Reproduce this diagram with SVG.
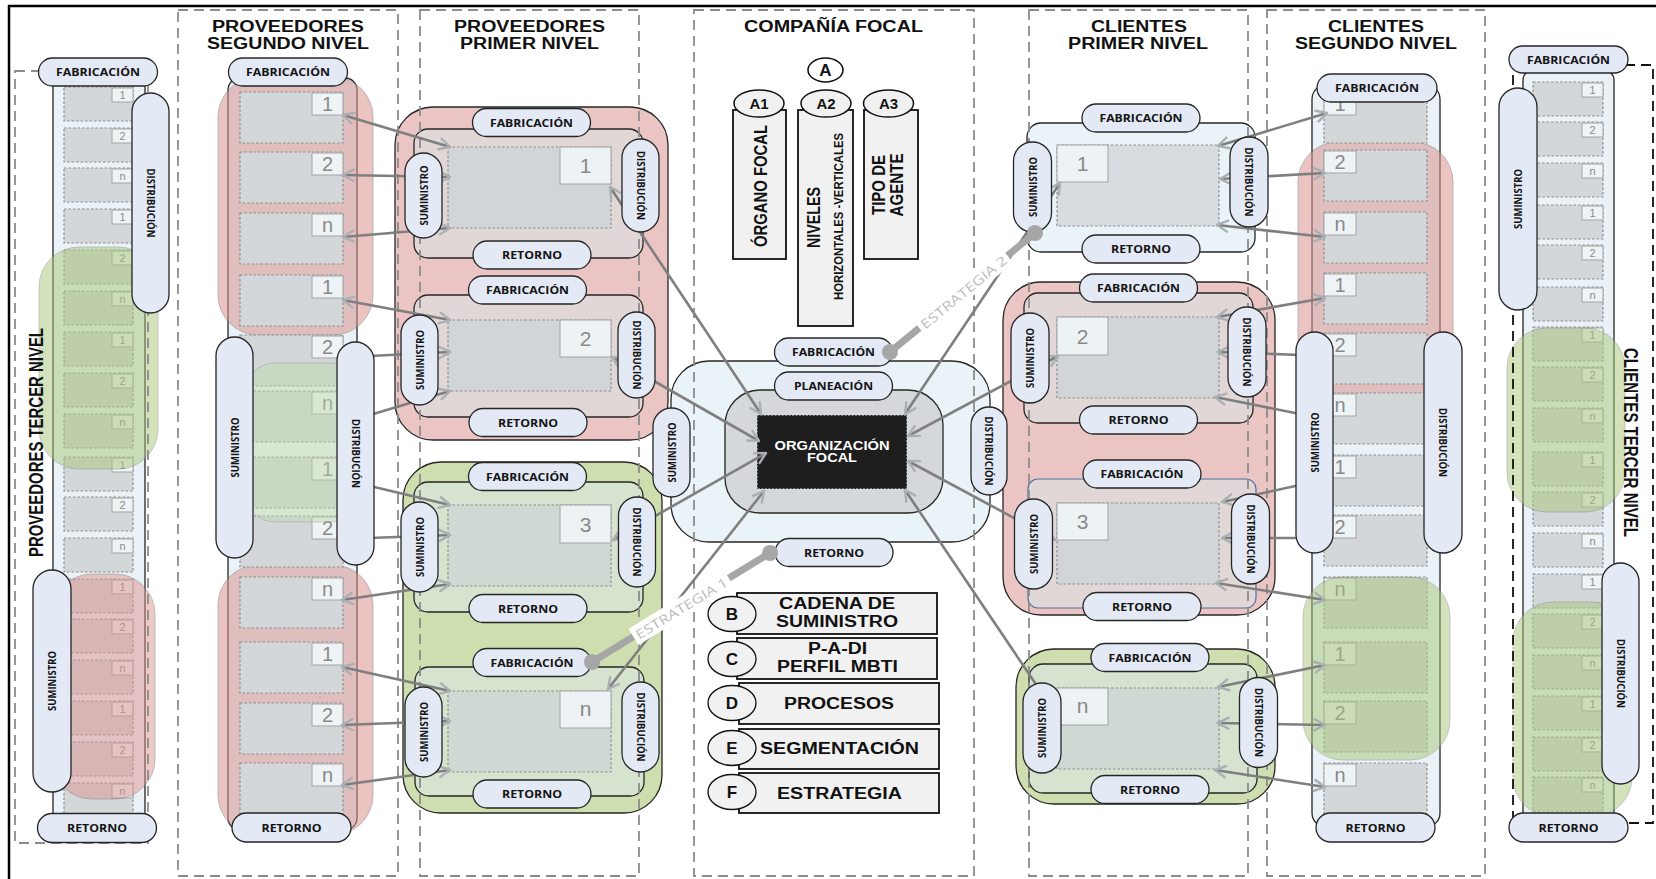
<svg xmlns="http://www.w3.org/2000/svg" width="1656" height="879" viewBox="0 0 1656 879">
<defs>
<style>
.dash{fill:none;stroke:#8C8C8C;stroke-width:1.8;stroke-dasharray:10 6}
.dashk{fill:none;stroke:#111;stroke-width:1.8;stroke-dasharray:10 6}
.ttl{font-family:"Liberation Sans",Arial,sans-serif;font-weight:bold;font-size:16px;fill:#111;text-anchor:middle}
.vt{font-family:"Liberation Sans",Arial,sans-serif;font-weight:bold;font-size:21px;fill:#111;text-anchor:middle}
.col{fill:#EAF2F7;stroke:#262626;stroke-width:1.3}
.pill{fill:#E3E9F5;stroke:#262626;stroke-width:1.3}
.pt{font-family:"Open Sans","Liberation Sans",sans-serif;font-weight:bold;font-size:10.5px;fill:#141414;text-anchor:middle}
.it{fill:#D3D7DA;stroke:#8E8E8E;stroke-width:1.2;stroke-dasharray:2.5 2}
.lb{fill:#EEF3F6;stroke:#A3A3A3;stroke-width:1}
.n{font-family:"Liberation Sans",Arial,sans-serif;fill:#8A8A8A;text-anchor:middle}
.n3{font-size:11px}.n2{font-size:20px}.n1{font-size:21px}
.red{fill:#DB9491;opacity:.5;stroke:#666;stroke-width:.8}
.redu{fill:#DB9491;opacity:.55;stroke:#666;stroke-width:.8}
.grn{fill:#A9C77A;opacity:.5;stroke:#777;stroke-width:.8}
.grnl{fill:#BFDAA6;opacity:.45;stroke:#888;stroke-width:.8}
.bigR{fill:#EBC5C3;stroke:#262626;stroke-width:1.3}
.bigG{fill:#CFDEAE;stroke:#262626;stroke-width:1.3}
.blkR{fill:#E2D7D7;stroke:#262626;stroke-width:1.3}
.blkG{fill:#D5E3CF;stroke:#262626;stroke-width:1.3}
.blkB{fill:#EAF3F7;stroke:#262626;stroke-width:1.3}
.ib{fill:#D2D5D8;stroke:#8E8E8E;stroke-width:1.2;stroke-dasharray:2.5 2}
.ibg{fill:#CDD9D2;stroke:#8E8E8E;stroke-width:1.2;stroke-dasharray:2.5 2}
.ibb{fill:#D6DCDF;stroke:#8E8E8E;stroke-width:1.2;stroke-dasharray:2.5 2}
.lbb{fill:#EDF2F5;stroke:#A3A3A3;stroke-width:1}
.ln{fill:none;stroke:#7F7F7F;stroke-width:2.6}
.box{fill:#F1F1F1;stroke:#111;stroke-width:1.8}
.at{font-family:"Liberation Sans",Arial,sans-serif;font-weight:bold;fill:#111;text-anchor:middle}
.lg{font-family:"Liberation Sans",Arial,sans-serif;font-weight:bold;font-size:16px;fill:#111;text-anchor:middle}
.est{font-family:"Open Sans","Liberation Sans",sans-serif;font-size:13px;fill:#BDBDBD;text-anchor:middle}
</style>
<marker id="ah" viewBox="0 0 14 14" refX="12.5" refY="7" markerWidth="14" markerHeight="14" markerUnits="userSpaceOnUse" orient="auto-start-reverse">
<path d="M2,1.5 L12.5,7 L2,12.5" fill="none" stroke="#A9B0B4" stroke-width="2.4" stroke-linecap="round"/>
</marker>
</defs>
<rect width="1656" height="879" fill="#fff"/>

<!-- ============ BODIES ============ -->
<g id="prov-tercer">
<rect class="col" x="53" y="76" width="92" height="750" rx="10"/>
<rect class="it" x="64" y="87" width="69" height="34"/><rect class="lb" x="112" y="88" width="21" height="14"/><text class="n n3" x="122.5" y="99">1</text>
<rect class="it" x="64" y="128" width="69" height="34"/><rect class="lb" x="112" y="129" width="21" height="14"/><text class="n n3" x="122.5" y="140">2</text>
<rect class="it" x="64" y="168" width="69" height="34"/><rect class="lb" x="112" y="169" width="21" height="14"/><text class="n n3" x="122.5" y="180">n</text>
<rect class="it" x="64" y="209" width="69" height="34"/><rect class="lb" x="112" y="210" width="21" height="14"/><text class="n n3" x="122.5" y="221">1</text>
<rect class="it" x="64" y="250" width="69" height="34"/><rect class="lb" x="112" y="251" width="21" height="14"/><text class="n n3" x="122.5" y="262">2</text>
<rect class="it" x="64" y="291" width="69" height="34"/><rect class="lb" x="112" y="292" width="21" height="14"/><text class="n n3" x="122.5" y="303">n</text>
<rect class="it" x="64" y="332" width="69" height="34"/><rect class="lb" x="112" y="333" width="21" height="14"/><text class="n n3" x="122.5" y="344">1</text>
<rect class="it" x="64" y="373" width="69" height="34"/><rect class="lb" x="112" y="374" width="21" height="14"/><text class="n n3" x="122.5" y="385">2</text>
<rect class="it" x="64" y="414" width="69" height="34"/><rect class="lb" x="112" y="415" width="21" height="14"/><text class="n n3" x="122.5" y="426">n</text>
<rect class="it" x="64" y="457" width="69" height="34"/><rect class="lb" x="112" y="458" width="21" height="14"/><text class="n n3" x="122.5" y="469">1</text>
<rect class="it" x="64" y="497" width="69" height="34"/><rect class="lb" x="112" y="498" width="21" height="14"/><text class="n n3" x="122.5" y="509">2</text>
<rect class="it" x="64" y="538" width="69" height="34"/><rect class="lb" x="112" y="539" width="21" height="14"/><text class="n n3" x="122.5" y="550">n</text>
<rect class="it" x="64" y="579" width="69" height="34"/><rect class="lb" x="112" y="580" width="21" height="14"/><text class="n n3" x="122.5" y="591">1</text>
<rect class="it" x="64" y="619" width="69" height="34"/><rect class="lb" x="112" y="620" width="21" height="14"/><text class="n n3" x="122.5" y="631">2</text>
<rect class="it" x="64" y="660" width="69" height="34"/><rect class="lb" x="112" y="661" width="21" height="14"/><text class="n n3" x="122.5" y="672">n</text>
<rect class="it" x="64" y="701" width="69" height="34"/><rect class="lb" x="112" y="702" width="21" height="14"/><text class="n n3" x="122.5" y="713">1</text>
<rect class="it" x="64" y="742" width="69" height="34"/><rect class="lb" x="112" y="743" width="21" height="14"/><text class="n n3" x="122.5" y="754">2</text>
<rect class="it" x="64" y="783" width="69" height="34"/><rect class="lb" x="112" y="784" width="21" height="14"/><text class="n n3" x="122.5" y="795">n</text>
<rect class="grn" x="39" y="247" width="119" height="222" rx="40"/>
<rect class="red" x="52" y="574" width="103" height="225" rx="40"/>
</g>

<g id="prov-segundo">
<rect class="col" x="228" y="78" width="129" height="752" rx="12"/>
<rect class="redu" x="218" y="77" width="155" height="258" rx="40"/>
<rect class="redu" x="218" y="565" width="155" height="270" rx="40"/>
<rect class="it" x="240" y="92" width="103" height="51"/><rect class="lb" x="312" y="93" width="31" height="22"/><text class="n n2" x="327.5" y="111">1</text>
<rect class="it" x="240" y="152" width="103" height="51"/><rect class="lb" x="312" y="153" width="31" height="22"/><text class="n n2" x="327.5" y="171">2</text>
<rect class="it" x="240" y="213" width="103" height="51"/><rect class="lb" x="312" y="214" width="31" height="22"/><text class="n n2" x="327.5" y="232">n</text>
<rect class="it" x="240" y="275" width="103" height="51"/><rect class="lb" x="312" y="276" width="31" height="22"/><text class="n n2" x="327.5" y="294">1</text>
<rect class="it" x="240" y="335" width="103" height="51"/><rect class="lb" x="312" y="336" width="31" height="22"/><text class="n n2" x="327.5" y="354">2</text>
<rect class="it" x="240" y="391" width="103" height="51"/><rect class="lb" x="312" y="392" width="31" height="22"/><text class="n n2" x="327.5" y="410">n</text>
<rect class="it" x="240" y="457" width="103" height="51"/><rect class="lb" x="312" y="458" width="31" height="22"/><text class="n n2" x="327.5" y="476">1</text>
<rect class="it" x="240" y="516" width="103" height="51"/><rect class="lb" x="312" y="517" width="31" height="22"/><text class="n n2" x="327.5" y="535">2</text>
<rect class="it" x="240" y="577" width="103" height="51"/><rect class="lb" x="312" y="578" width="31" height="22"/><text class="n n2" x="327.5" y="596">n</text>
<rect class="it" x="240" y="642" width="103" height="51"/><rect class="lb" x="312" y="643" width="31" height="22"/><text class="n n2" x="327.5" y="661">1</text>
<rect class="it" x="240" y="703" width="103" height="51"/><rect class="lb" x="312" y="704" width="31" height="22"/><text class="n n2" x="327.5" y="722">2</text>
<rect class="it" x="240" y="763" width="103" height="51"/><rect class="lb" x="312" y="764" width="31" height="22"/><text class="n n2" x="327.5" y="782">n</text>
<rect class="grnl" x="245" y="363" width="115" height="159" rx="30"/>
</g>

<g id="prov-primer">
<rect class="bigR" x="395" y="107" width="273" height="333" rx="38"/>
<rect class="bigG" x="403" y="462" width="259" height="351" rx="38"/>
<rect class="blkR" x="414" y="129" width="229" height="129" rx="14"/>
<rect class="ib" x="448" y="147" width="163" height="81"/><rect class="lbb" x="560" y="147" width="51" height="37"/><text class="n n1" x="585.5" y="173">1</text>
<rect class="blkR" x="414" y="295" width="229" height="122" rx="14"/>
<rect class="ib" x="448" y="320" width="163" height="71"/><rect class="lbb" x="560" y="320" width="51" height="37"/><text class="n n1" x="585.5" y="346">2</text>
<rect class="blkG" x="414" y="482" width="229" height="130" rx="14"/>
<rect class="ibg" x="448" y="505" width="163" height="81"/><rect class="lbb" x="560" y="505" width="51" height="38"/><text class="n n1" x="585.5" y="532">3</text>
<rect class="blkG" x="415" y="667" width="229" height="129" rx="14"/>
<rect class="ibg" x="448" y="691" width="163" height="81"/><rect class="lbb" x="560" y="691" width="51" height="37"/><text class="n n1" x="585.5" y="716">n</text>
</g>

<g id="compania-focal">
<rect x="671" y="361" width="319" height="181" rx="38" fill="#EAF3F7" stroke="#262626" stroke-width="1.3"/>
<rect x="725" y="390" width="218" height="123" rx="35" fill="#D4D8DB" stroke="#262626" stroke-width="1.3"/>
<rect x="757" y="415" width="150" height="74" fill="#1E1E1E" stroke="#DDDDDD" stroke-width="1" stroke-dasharray="2 1.5"/>
<text x="832" y="450" font-family="Liberation Sans, Arial, sans-serif" font-weight="bold" font-size="12.5" fill="#fff" text-anchor="middle" textLength="115" lengthAdjust="spacingAndGlyphs">ORGANIZACIÓN</text>
<text x="832" y="462" font-family="Liberation Sans, Arial, sans-serif" font-weight="bold" font-size="12.5" fill="#fff" text-anchor="middle" textLength="50" lengthAdjust="spacingAndGlyphs">FOCAL</text>
</g>

<g id="A">
<ellipse cx="825.5" cy="70" rx="17.5" ry="12" fill="#fff" stroke="#111" stroke-width="1.5"/>
<text class="at" x="825.5" y="76" font-size="17">A</text>
</g>
<g id="A1">
<rect class="box" x="733" y="110" width="53" height="149"/>
<ellipse cx="759" cy="103.5" rx="25" ry="13.5" fill="#F1F1F1" stroke="#111" stroke-width="1.5"/>
<text class="at" x="759" y="109" font-size="15">A1</text>
<text class="at" transform="translate(767,186) rotate(-90)" font-size="18" textLength="122" lengthAdjust="spacingAndGlyphs">ÓRGANO FOCAL</text>
</g>
<g id="A2">
<rect class="box" x="798" y="110" width="55" height="216"/>
<ellipse cx="826" cy="103.5" rx="25" ry="13.5" fill="#F1F1F1" stroke="#111" stroke-width="1.5"/>
<text class="at" x="826" y="109" font-size="15">A2</text>
<text class="at" transform="translate(820,217.5) rotate(-90)" font-size="19" textLength="61" lengthAdjust="spacingAndGlyphs">NIVELES</text>
<text class="at" transform="translate(843,216.5) rotate(-90)" font-size="13.5" textLength="167" lengthAdjust="spacingAndGlyphs">HORIZONTALES -VERTICALES</text>
</g>
<g id="A3">
<rect class="box" x="864" y="110" width="54" height="149"/>
<ellipse cx="888.5" cy="103.5" rx="25" ry="13.5" fill="#F1F1F1" stroke="#111" stroke-width="1.5"/>
<text class="at" x="888.5" y="109" font-size="15">A3</text>
<text class="at" transform="translate(885,185) rotate(-90)" font-size="19" textLength="60" lengthAdjust="spacingAndGlyphs">TIPO DE</text>
<text class="at" transform="translate(903,185) rotate(-90)" font-size="19" textLength="63" lengthAdjust="spacingAndGlyphs">AGENTE</text>
</g>

<g id="legend-B">
<rect class="box" x="737" y="593" width="200" height="41"/>
<ellipse cx="732" cy="614" rx="24" ry="17.5" fill="#F1F1F1" stroke="#111" stroke-width="1.3"/>
<text class="at" x="732" y="620" font-size="17">B</text>
<text class="lg" x="837" y="609" textLength="116" lengthAdjust="spacingAndGlyphs">CADENA DE</text>
<text class="lg" x="837" y="627" textLength="122" lengthAdjust="spacingAndGlyphs">SUMINISTRO</text>
</g>
<g id="legend-C">
<rect class="box" x="737" y="638" width="200" height="41"/>
<ellipse cx="732" cy="659" rx="24" ry="17.5" fill="#F1F1F1" stroke="#111" stroke-width="1.3"/>
<text class="at" x="732" y="665" font-size="17">C</text>
<text class="lg" x="837.5" y="654" textLength="59" lengthAdjust="spacingAndGlyphs">P-A-DI</text>
<text class="lg" x="837.5" y="672" textLength="121" lengthAdjust="spacingAndGlyphs">PERFIL MBTI</text>
</g>
<g id="legend-D">
<rect class="box" x="739" y="683" width="200" height="41"/>
<ellipse cx="732" cy="703" rx="24" ry="17.5" fill="#F1F1F1" stroke="#111" stroke-width="1.3"/>
<text class="at" x="732" y="709" font-size="17">D</text>
<text class="lg" x="839" y="709" textLength="110" lengthAdjust="spacingAndGlyphs">PROCESOS</text>
</g>
<g id="legend-E">
<rect class="box" x="739" y="729" width="200" height="40"/>
<ellipse cx="732" cy="748" rx="24" ry="17.5" fill="#F1F1F1" stroke="#111" stroke-width="1.3"/>
<text class="at" x="732" y="754" font-size="17">E</text>
<text class="lg" x="839.5" y="754" textLength="159" lengthAdjust="spacingAndGlyphs">SEGMENTACIÓN</text>
</g>
<g id="legend-F">
<rect class="box" x="739" y="773" width="200" height="40"/>
<ellipse cx="732" cy="792" rx="24" ry="17.5" fill="#F1F1F1" stroke="#111" stroke-width="1.3"/>
<text class="at" x="732" y="798" font-size="17">F</text>
<text class="lg" x="839.5" y="799" textLength="125" lengthAdjust="spacingAndGlyphs">ESTRATEGIA</text>
</g>

<g id="cli-primer">
<rect class="bigR" x="1003" y="282" width="272" height="333" rx="38"/>
<rect class="bigG" x="1016" y="649" width="259" height="155" rx="38"/>
<rect class="blkB" x="1027" y="123" width="228" height="129" rx="14"/>
<rect class="ibb" x="1057" y="145" width="162" height="81"/><rect class="lbb" x="1057" y="145" width="51" height="37"/><text class="n n1" x="1082.5" y="171">1</text>
<rect class="blkR" x="1024" y="293" width="229" height="130" rx="14"/>
<rect class="ib" x="1057" y="317" width="162" height="81"/><rect class="lbb" x="1057" y="317" width="51" height="38"/><text class="n n1" x="1082.5" y="344">2</text>
<rect x="1028" y="479" width="228" height="129" rx="10" fill="#E2D7D7" stroke="#4F6F9F" stroke-width="1.2"/>
<rect class="ib" x="1057" y="503" width="162" height="81"/><rect class="lbb" x="1057" y="503" width="51" height="37"/><text class="n n1" x="1082.5" y="529">3</text>
<rect class="blkG" x="1029" y="664" width="228" height="129" rx="14"/>
<rect class="ibg" x="1057" y="688" width="162" height="81"/><rect class="lbb" x="1057" y="688" width="51" height="37"/><text class="n n1" x="1082.5" y="713">n</text>
</g>

<g id="cli-segundo">
<rect class="col" x="1312" y="85" width="128" height="742" rx="14"/>
<rect class="redu" x="1298" y="142" width="155" height="265" rx="40"/>
<rect class="it" x="1324" y="92" width="103" height="51"/><rect class="lb" x="1324" y="93" width="32" height="22"/><text class="n n2" x="1340" y="111">1</text>
<rect class="it" x="1324" y="150" width="103" height="51"/><rect class="lb" x="1324" y="151" width="32" height="22"/><text class="n n2" x="1340" y="169">2</text>
<rect class="it" x="1324" y="212" width="103" height="51"/><rect class="lb" x="1324" y="213" width="32" height="22"/><text class="n n2" x="1340" y="231">n</text>
<rect class="it" x="1324" y="273" width="103" height="51"/><rect class="lb" x="1324" y="274" width="32" height="22"/><text class="n n2" x="1340" y="292">1</text>
<rect class="it" x="1324" y="333" width="103" height="51"/><rect class="lb" x="1324" y="334" width="32" height="22"/><text class="n n2" x="1340" y="352">2</text>
<rect class="it" x="1324" y="393" width="103" height="51"/><rect class="lb" x="1324" y="394" width="32" height="22"/><text class="n n2" x="1340" y="412">n</text>
<rect class="it" x="1324" y="455" width="103" height="51"/><rect class="lb" x="1324" y="456" width="32" height="22"/><text class="n n2" x="1340" y="474">1</text>
<rect class="it" x="1324" y="515" width="103" height="51"/><rect class="lb" x="1324" y="516" width="32" height="22"/><text class="n n2" x="1340" y="534">2</text>
<rect class="it" x="1324" y="577" width="103" height="51"/><rect class="lb" x="1324" y="578" width="32" height="22"/><text class="n n2" x="1340" y="596">n</text>
<rect class="it" x="1324" y="642" width="103" height="51"/><rect class="lb" x="1324" y="643" width="32" height="22"/><text class="n n2" x="1340" y="661">1</text>
<rect class="it" x="1324" y="701" width="103" height="51"/><rect class="lb" x="1324" y="702" width="32" height="22"/><text class="n n2" x="1340" y="720">2</text>
<rect class="it" x="1324" y="763" width="103" height="51"/><rect class="lb" x="1324" y="764" width="32" height="22"/><text class="n n2" x="1340" y="782">n</text>
<rect class="grn" x="1303" y="577" width="147" height="183" rx="40"/>
</g>

<g id="cli-tercer">
<rect class="col" x="1523" y="70" width="91" height="755" rx="10"/>
<rect class="it" x="1533" y="82" width="70" height="34"/><rect class="lb" x="1582" y="83" width="21" height="14"/><text class="n n3" x="1592.5" y="94">1</text>
<rect class="it" x="1533" y="122" width="70" height="34"/><rect class="lb" x="1582" y="123" width="21" height="14"/><text class="n n3" x="1592.5" y="134">2</text>
<rect class="it" x="1533" y="163" width="70" height="34"/><rect class="lb" x="1582" y="164" width="21" height="14"/><text class="n n3" x="1592.5" y="175">n</text>
<rect class="it" x="1533" y="205" width="70" height="34"/><rect class="lb" x="1582" y="206" width="21" height="14"/><text class="n n3" x="1592.5" y="217">1</text>
<rect class="it" x="1533" y="245" width="70" height="34"/><rect class="lb" x="1582" y="246" width="21" height="14"/><text class="n n3" x="1592.5" y="257">2</text>
<rect class="it" x="1533" y="287" width="70" height="34"/><rect class="lb" x="1582" y="288" width="21" height="14"/><text class="n n3" x="1592.5" y="299">n</text>
<rect class="it" x="1533" y="327" width="70" height="34"/><rect class="lb" x="1582" y="328" width="21" height="14"/><text class="n n3" x="1592.5" y="339">1</text>
<rect class="it" x="1533" y="367" width="70" height="34"/><rect class="lb" x="1582" y="368" width="21" height="14"/><text class="n n3" x="1592.5" y="379">2</text>
<rect class="it" x="1533" y="408" width="70" height="34"/><rect class="lb" x="1582" y="409" width="21" height="14"/><text class="n n3" x="1592.5" y="420">n</text>
<rect class="it" x="1533" y="452" width="70" height="34"/><rect class="lb" x="1582" y="453" width="21" height="14"/><text class="n n3" x="1592.5" y="464">1</text>
<rect class="it" x="1533" y="492" width="70" height="34"/><rect class="lb" x="1582" y="493" width="21" height="14"/><text class="n n3" x="1592.5" y="504">2</text>
<rect class="it" x="1533" y="533" width="70" height="34"/><rect class="lb" x="1582" y="534" width="21" height="14"/><text class="n n3" x="1592.5" y="545">n</text>
<rect class="it" x="1533" y="574" width="70" height="34"/><rect class="lb" x="1582" y="575" width="21" height="14"/><text class="n n3" x="1592.5" y="586">1</text>
<rect class="it" x="1533" y="614" width="70" height="34"/><rect class="lb" x="1582" y="615" width="21" height="14"/><text class="n n3" x="1592.5" y="626">2</text>
<rect class="it" x="1533" y="655" width="70" height="34"/><rect class="lb" x="1582" y="656" width="21" height="14"/><text class="n n3" x="1592.5" y="667">n</text>
<rect class="it" x="1533" y="696" width="70" height="34"/><rect class="lb" x="1582" y="697" width="21" height="14"/><text class="n n3" x="1592.5" y="708">1</text>
<rect class="it" x="1533" y="737" width="70" height="34"/><rect class="lb" x="1582" y="738" width="21" height="14"/><text class="n n3" x="1592.5" y="749">2</text>
<rect class="it" x="1533" y="777" width="70" height="34"/><rect class="lb" x="1582" y="778" width="21" height="14"/><text class="n n3" x="1592.5" y="789">n</text>
<rect class="grn" x="1507" y="328" width="118" height="184" rx="40"/>
<rect class="grn" x="1513" y="602" width="119" height="215" rx="40"/>
</g>

<!-- ============ COLUMNS / FRAME ============ -->
<g id="columns">
<path d="M9,879 V6 H1656" fill="none" stroke="#000" stroke-width="2.5"/>
<rect class="dash" x="15" y="71" width="133" height="772"/>
<rect class="dash" x="178" y="10" width="220" height="866"/>
<rect class="dash" x="420" y="10" width="219" height="866"/>
<rect class="dash" x="694" y="10" width="280" height="866"/>
<rect class="dash" x="1029" y="10" width="219" height="866"/>
<rect class="dash" x="1267" y="10" width="218" height="866"/>
<rect class="dashk" x="1513" y="65" width="140" height="758"/>
<text class="ttl" x="288" y="32" textLength="152" lengthAdjust="spacingAndGlyphs">PROVEEDORES</text>
<text class="ttl" x="288" y="49" textLength="162" lengthAdjust="spacingAndGlyphs">SEGUNDO NIVEL</text>
<text class="ttl" x="529.5" y="32" textLength="151" lengthAdjust="spacingAndGlyphs">PROVEEDORES</text>
<text class="ttl" x="529.5" y="49" textLength="139" lengthAdjust="spacingAndGlyphs">PRIMER NIVEL</text>
<text class="ttl" x="833.5" y="32" textLength="179" lengthAdjust="spacingAndGlyphs">COMPAÑÍA FOCAL</text>
<text class="ttl" x="1139" y="32" textLength="96" lengthAdjust="spacingAndGlyphs">CLIENTES</text>
<text class="ttl" x="1138" y="49" textLength="140" lengthAdjust="spacingAndGlyphs">PRIMER NIVEL</text>
<text class="ttl" x="1376" y="32" textLength="96" lengthAdjust="spacingAndGlyphs">CLIENTES</text>
<text class="ttl" x="1376" y="49" textLength="162" lengthAdjust="spacingAndGlyphs">SEGUNDO NIVEL</text>
<text class="vt" transform="translate(43,442.5) rotate(-90)" textLength="229" lengthAdjust="spacingAndGlyphs">PROVEEDORES TERCER NIVEL</text>
<text class="vt" transform="translate(1624,442.5) rotate(90)" textLength="189" lengthAdjust="spacingAndGlyphs">CLIENTES TERCER NIVEL</text>
</g>

<!-- ============ CONNECTORS ============ -->
<g id="connectors">
<line class="ln" x1="343" y1="115" x2="450" y2="147" marker-start="url(#ah)" marker-end="url(#ah)"/>
<line class="ln" x1="343" y1="175" x2="450" y2="177" marker-start="url(#ah)" marker-end="url(#ah)"/>
<line class="ln" x1="343" y1="237" x2="450" y2="228" marker-start="url(#ah)" marker-end="url(#ah)"/>
<line class="ln" x1="343" y1="300" x2="450" y2="320" marker-start="url(#ah)" marker-end="url(#ah)"/>
<line class="ln" x1="370" y1="356" x2="450" y2="352" marker-end="url(#ah)"/>
<line class="ln" x1="370" y1="415" x2="450" y2="391" marker-end="url(#ah)"/>
<line class="ln" x1="370" y1="486" x2="450" y2="505" marker-end="url(#ah)"/>
<line class="ln" x1="370" y1="538" x2="450" y2="535" marker-end="url(#ah)"/>
<line class="ln" x1="342" y1="600" x2="450" y2="584" marker-start="url(#ah)" marker-end="url(#ah)"/>
<line class="ln" x1="342" y1="667" x2="450" y2="691" marker-start="url(#ah)" marker-end="url(#ah)"/>
<line class="ln" x1="342" y1="725" x2="450" y2="721" marker-start="url(#ah)" marker-end="url(#ah)"/>
<line class="ln" x1="342" y1="785" x2="450" y2="770" marker-start="url(#ah)" marker-end="url(#ah)"/>
<line class="ln" x1="610" y1="187" x2="761" y2="414" marker-start="url(#ah)" marker-end="url(#ah)"/>
<line class="ln" x1="612" y1="357" x2="759" y2="441" marker-start="url(#ah)" marker-end="url(#ah)"/>
<line class="ln" x1="613" y1="540" x2="766" y2="453" marker-start="url(#ah)" marker-end="url(#ah)"/>
<line class="ln" x1="608" y1="689" x2="764" y2="491" marker-start="url(#ah)" marker-end="url(#ah)"/>
<line class="ln" x1="1060" y1="183" x2="905" y2="414" marker-start="url(#ah)" marker-end="url(#ah)"/>
<line class="ln" x1="1058" y1="356" x2="908" y2="436" marker-start="url(#ah)" marker-end="url(#ah)"/>
<line class="ln" x1="1055" y1="540" x2="908" y2="461" marker-start="url(#ah)" marker-end="url(#ah)"/>
<line class="ln" x1="1060" y1="720" x2="905" y2="490" marker-start="url(#ah)" marker-end="url(#ah)"/>
<line class="ln" x1="1218" y1="146" x2="1327" y2="113" marker-start="url(#ah)" marker-end="url(#ah)"/>
<line class="ln" x1="1220" y1="179" x2="1325" y2="173" marker-start="url(#ah)" marker-end="url(#ah)"/>
<line class="ln" x1="1217" y1="225" x2="1325" y2="237" marker-start="url(#ah)" marker-end="url(#ah)"/>
<line class="ln" x1="1217" y1="317" x2="1325" y2="298" marker-start="url(#ah)" marker-end="url(#ah)"/>
<line class="ln" x1="1300" y1="355" x2="1218" y2="352" marker-end="url(#ah)"/>
<line class="ln" x1="1300" y1="414" x2="1215" y2="397" marker-end="url(#ah)"/>
<line class="ln" x1="1300" y1="485" x2="1222" y2="502" marker-end="url(#ah)"/>
<line class="ln" x1="1300" y1="538" x2="1222" y2="538" marker-end="url(#ah)"/>
<line class="ln" x1="1216" y1="583" x2="1325" y2="600" marker-start="url(#ah)" marker-end="url(#ah)"/>
<line class="ln" x1="1218" y1="687" x2="1325" y2="665" marker-start="url(#ah)" marker-end="url(#ah)"/>
<line class="ln" x1="1218" y1="723" x2="1325" y2="725" marker-start="url(#ah)" marker-end="url(#ah)"/>
<line class="ln" x1="1215" y1="770" x2="1325" y2="787" marker-start="url(#ah)" marker-end="url(#ah)"/>
</g>

<!-- ============ PORT PILLS ============ -->
<g id="prov-tercer-ports">
<rect class="pill" x="38.5" y="58" width="119" height="28" rx="14"/><text class="pt" x="98" y="76" textLength="84" lengthAdjust="spacingAndGlyphs">FABRICACIÓN</text>
<rect class="pill" x="37.5" y="813.5" width="119" height="29" rx="14.5"/><text class="pt" x="97" y="832" textLength="60" lengthAdjust="spacingAndGlyphs">RETORNO</text>
<rect class="pill" x="132" y="93" width="37" height="220" rx="18.5"/><text class="pt" transform="translate(150.5,203) rotate(90)" y="4" textLength="69" lengthAdjust="spacingAndGlyphs">DISTRIBUCIÓN</text>
<rect class="pill" x="33" y="570" width="38" height="222" rx="19"/><text class="pt" transform="translate(52,681) rotate(-90)" y="4" textLength="60" lengthAdjust="spacingAndGlyphs">SUMINISTRO</text>
</g>
<g id="prov-segundo-ports">
<rect class="pill" x="228.5" y="58" width="119" height="28" rx="14"/><text class="pt" x="288" y="76" textLength="84" lengthAdjust="spacingAndGlyphs">FABRICACIÓN</text>
<rect class="pill" x="232" y="813" width="119" height="29" rx="14.5"/><text class="pt" x="291.5" y="831.5" textLength="60" lengthAdjust="spacingAndGlyphs">RETORNO</text>
<rect class="pill" x="216" y="337" width="37" height="221" rx="18.5"/><text class="pt" transform="translate(234.5,447.5) rotate(-90)" y="4" textLength="60" lengthAdjust="spacingAndGlyphs">SUMINISTRO</text>
<rect class="pill" x="337" y="342" width="37" height="223" rx="18.5"/><text class="pt" transform="translate(355.5,453.5) rotate(90)" y="4" textLength="69" lengthAdjust="spacingAndGlyphs">DISTRIBUCIÓN</text>
</g>
<g id="prov-primer-1-ports">
<rect class="pill" x="472.5" y="108.5" width="118" height="28" rx="14"/><text class="pt" x="531.5" y="126.5" textLength="83" lengthAdjust="spacingAndGlyphs">FABRICACIÓN</text>
<rect class="pill" x="473" y="241" width="118" height="28" rx="14"/><text class="pt" x="532" y="259" textLength="60" lengthAdjust="spacingAndGlyphs">RETORNO</text>
<rect class="pill" x="405" y="153" width="37" height="85" rx="18.5"/><text class="pt" transform="translate(423.5,195.5) rotate(-90)" y="4" textLength="60" lengthAdjust="spacingAndGlyphs">SUMINISTRO</text>
<rect class="pill" x="622" y="139" width="37" height="93" rx="18.5"/><text class="pt" transform="translate(640.5,185.5) rotate(90)" y="4" textLength="69" lengthAdjust="spacingAndGlyphs">DISTRIBUCIÓN</text>
</g>
<g id="prov-primer-2-ports">
<rect class="pill" x="468.5" y="276" width="118" height="28" rx="14"/><text class="pt" x="527.5" y="294" textLength="83" lengthAdjust="spacingAndGlyphs">FABRICACIÓN</text>
<rect class="pill" x="469" y="408.5" width="118" height="28" rx="14"/><text class="pt" x="528" y="426.5" textLength="60" lengthAdjust="spacingAndGlyphs">RETORNO</text>
<rect class="pill" x="401" y="315" width="37" height="90" rx="18.5"/><text class="pt" transform="translate(419.5,360) rotate(-90)" y="4" textLength="60" lengthAdjust="spacingAndGlyphs">SUMINISTRO</text>
<rect class="pill" x="618" y="312" width="37" height="86" rx="18.5"/><text class="pt" transform="translate(636.5,355) rotate(90)" y="4" textLength="69" lengthAdjust="spacingAndGlyphs">DISTRIBUCIÓN</text>
</g>
<g id="prov-primer-3-ports">
<rect class="pill" x="468.5" y="462.5" width="118" height="28" rx="14"/><text class="pt" x="527.5" y="480.5" textLength="83" lengthAdjust="spacingAndGlyphs">FABRICACIÓN</text>
<rect class="pill" x="469" y="594.5" width="118" height="28" rx="14"/><text class="pt" x="528" y="612.5" textLength="60" lengthAdjust="spacingAndGlyphs">RETORNO</text>
<rect class="pill" x="401" y="502" width="37" height="90" rx="18.5"/><text class="pt" transform="translate(419.5,547) rotate(-90)" y="4" textLength="60" lengthAdjust="spacingAndGlyphs">SUMINISTRO</text>
<rect class="pill" x="618.5" y="497" width="37" height="90" rx="18.5"/><text class="pt" transform="translate(637,542) rotate(90)" y="4" textLength="69" lengthAdjust="spacingAndGlyphs">DISTRIBUCIÓN</text>
</g>
<g id="prov-primer-n-ports">
<rect class="pill" x="473" y="648.5" width="118" height="28" rx="14"/><text class="pt" x="532" y="666.5" textLength="83" lengthAdjust="spacingAndGlyphs">FABRICACIÓN</text>
<rect class="pill" x="473" y="780" width="118" height="28" rx="14"/><text class="pt" x="532" y="798" textLength="60" lengthAdjust="spacingAndGlyphs">RETORNO</text>
<rect class="pill" x="405" y="687" width="37" height="90" rx="18.5"/><text class="pt" transform="translate(423.5,732) rotate(-90)" y="4" textLength="60" lengthAdjust="spacingAndGlyphs">SUMINISTRO</text>
<rect class="pill" x="622" y="682" width="37" height="90" rx="18.5"/><text class="pt" transform="translate(640.5,727) rotate(90)" y="4" textLength="69" lengthAdjust="spacingAndGlyphs">DISTRIBUCIÓN</text>
</g>
<g id="focal-ports">
<rect class="pill" x="774.5" y="338" width="118" height="28" rx="14"/><text class="pt" x="833.5" y="356" textLength="83" lengthAdjust="spacingAndGlyphs">FABRICACIÓN</text>
<rect class="pill" x="774.5" y="372" width="118" height="28" rx="14"/><text class="pt" x="833.5" y="390" textLength="79" lengthAdjust="spacingAndGlyphs">PLANEACIÓN</text>
<rect class="pill" x="775" y="538.5" width="118" height="28" rx="14"/><text class="pt" x="834" y="556.5" textLength="60" lengthAdjust="spacingAndGlyphs">RETORNO</text>
<rect class="pill" x="653" y="408" width="37" height="89" rx="18.5"/><text class="pt" transform="translate(671.5,452.5) rotate(-90)" y="4" textLength="60" lengthAdjust="spacingAndGlyphs">SUMINISTRO</text>
<rect class="pill" x="971" y="407" width="36" height="88" rx="18"/><text class="pt" transform="translate(989,451) rotate(90)" y="4" textLength="69" lengthAdjust="spacingAndGlyphs">DISTRIBUCIÓN</text>
</g>
<g id="cli-primer-1-ports">
<rect class="pill" x="1082" y="104" width="118" height="28" rx="14"/><text class="pt" x="1141" y="122" textLength="83" lengthAdjust="spacingAndGlyphs">FABRICACIÓN</text>
<rect class="pill" x="1082" y="235" width="118" height="28" rx="14"/><text class="pt" x="1141" y="253" textLength="60" lengthAdjust="spacingAndGlyphs">RETORNO</text>
<rect class="pill" x="1013.5" y="142" width="38" height="90" rx="19"/><text class="pt" transform="translate(1032.5,187) rotate(-90)" y="4" textLength="60" lengthAdjust="spacingAndGlyphs">SUMINISTRO</text>
<rect class="pill" x="1230" y="137" width="38" height="90" rx="19"/><text class="pt" transform="translate(1249,182) rotate(90)" y="4" textLength="69" lengthAdjust="spacingAndGlyphs">DISTRIBUCIÓN</text>
</g>
<g id="cli-primer-2-ports">
<rect class="pill" x="1079.5" y="274" width="118" height="28" rx="14"/><text class="pt" x="1138.5" y="292" textLength="83" lengthAdjust="spacingAndGlyphs">FABRICACIÓN</text>
<rect class="pill" x="1079.5" y="406" width="118" height="28" rx="14"/><text class="pt" x="1138.5" y="424" textLength="60" lengthAdjust="spacingAndGlyphs">RETORNO</text>
<rect class="pill" x="1011" y="313" width="38" height="90" rx="19"/><text class="pt" transform="translate(1030,358) rotate(-90)" y="4" textLength="60" lengthAdjust="spacingAndGlyphs">SUMINISTRO</text>
<rect class="pill" x="1228" y="307" width="38" height="90" rx="19"/><text class="pt" transform="translate(1247,352) rotate(90)" y="4" textLength="69" lengthAdjust="spacingAndGlyphs">DISTRIBUCIÓN</text>
</g>
<g id="cli-primer-3-ports">
<rect class="pill" x="1083" y="460" width="118" height="28" rx="14"/><text class="pt" x="1142" y="478" textLength="83" lengthAdjust="spacingAndGlyphs">FABRICACIÓN</text>
<rect class="pill" x="1083" y="592.5" width="118" height="28" rx="14"/><text class="pt" x="1142" y="610.5" textLength="60" lengthAdjust="spacingAndGlyphs">RETORNO</text>
<rect class="pill" x="1014.5" y="499" width="38" height="90" rx="19"/><text class="pt" transform="translate(1033.5,544) rotate(-90)" y="4" textLength="60" lengthAdjust="spacingAndGlyphs">SUMINISTRO</text>
<rect class="pill" x="1231.5" y="494" width="38" height="90" rx="19"/><text class="pt" transform="translate(1250.5,539) rotate(90)" y="4" textLength="69" lengthAdjust="spacingAndGlyphs">DISTRIBUCIÓN</text>
</g>
<g id="cli-primer-n-ports">
<rect class="pill" x="1091" y="643.5" width="118" height="28" rx="14"/><text class="pt" x="1150" y="661.5" textLength="83" lengthAdjust="spacingAndGlyphs">FABRICACIÓN</text>
<rect class="pill" x="1091" y="775.5" width="118" height="28" rx="14"/><text class="pt" x="1150" y="793.5" textLength="60" lengthAdjust="spacingAndGlyphs">RETORNO</text>
<rect class="pill" x="1023" y="683" width="38" height="90" rx="19"/><text class="pt" transform="translate(1042,728) rotate(-90)" y="4" textLength="60" lengthAdjust="spacingAndGlyphs">SUMINISTRO</text>
<rect class="pill" x="1239.5" y="677.5" width="38" height="90" rx="19"/><text class="pt" transform="translate(1258.5,722.5) rotate(90)" y="4" textLength="69" lengthAdjust="spacingAndGlyphs">DISTRIBUCIÓN</text>
</g>
<g id="cli-segundo-ports">
<rect class="pill" x="1317" y="74" width="120" height="28" rx="14"/><text class="pt" x="1377" y="92" textLength="84" lengthAdjust="spacingAndGlyphs">FABRICACIÓN</text>
<rect class="pill" x="1316" y="813" width="119" height="29" rx="14.5"/><text class="pt" x="1375.5" y="831.5" textLength="60" lengthAdjust="spacingAndGlyphs">RETORNO</text>
<rect class="pill" x="1296" y="332" width="37" height="221" rx="18.5"/><text class="pt" transform="translate(1314.5,442.5) rotate(-90)" y="4" textLength="60" lengthAdjust="spacingAndGlyphs">SUMINISTRO</text>
<rect class="pill" x="1424" y="332" width="38" height="221" rx="19"/><text class="pt" transform="translate(1443,442.5) rotate(90)" y="4" textLength="69" lengthAdjust="spacingAndGlyphs">DISTRIBUCIÓN</text>
</g>
<g id="cli-tercer-ports">
<rect class="pill" x="1509" y="46" width="119" height="27" rx="13.5"/><text class="pt" x="1568.5" y="63.5" textLength="83" lengthAdjust="spacingAndGlyphs">FABRICACIÓN</text>
<rect class="pill" x="1509" y="813" width="119" height="29" rx="14.5"/><text class="pt" x="1568.5" y="831.5" textLength="60" lengthAdjust="spacingAndGlyphs">RETORNO</text>
<rect class="pill" x="1499" y="88" width="38" height="222" rx="19"/><text class="pt" transform="translate(1518,199) rotate(-90)" y="4" textLength="60" lengthAdjust="spacingAndGlyphs">SUMINISTRO</text>
<rect class="pill" x="1602" y="563" width="37" height="221" rx="18.5"/><text class="pt" transform="translate(1620.5,673.5) rotate(90)" y="4" textLength="69" lengthAdjust="spacingAndGlyphs">DISTRIBUCIÓN</text>
</g>

<!-- ============ STRATEGY CONNECTORS ============ -->
<g id="strategy-connectors">
<line x1="592" y1="662" x2="770" y2="553" stroke="#A6A6A6" stroke-width="7"/>
<circle cx="592" cy="662" r="8" fill="#A6A6A6"/>
<circle cx="770" cy="553" r="8" fill="#A6A6A6"/>
<g transform="translate(681.5,608) rotate(-31.5)">
<rect x="-56" y="-10" width="112" height="19" fill="#fff"/>
<text class="est" x="0" y="5" textLength="105" lengthAdjust="spacingAndGlyphs">ESTRATEGIA 1</text>
</g>
<line x1="890" y1="352" x2="1035" y2="233" stroke="#A6A6A6" stroke-width="7"/>
<circle cx="890" cy="352" r="8" fill="#A6A6A6"/>
<circle cx="1035" cy="233" r="8" fill="#A6A6A6"/>
<g transform="translate(963.5,292) rotate(-39.4)">
<rect x="-57" y="-10" width="114" height="19" fill="#fff"/>
<text class="est" x="0" y="5" textLength="107" lengthAdjust="spacingAndGlyphs">ESTRATEGIA 2</text>
</g>
</g>
</svg>
